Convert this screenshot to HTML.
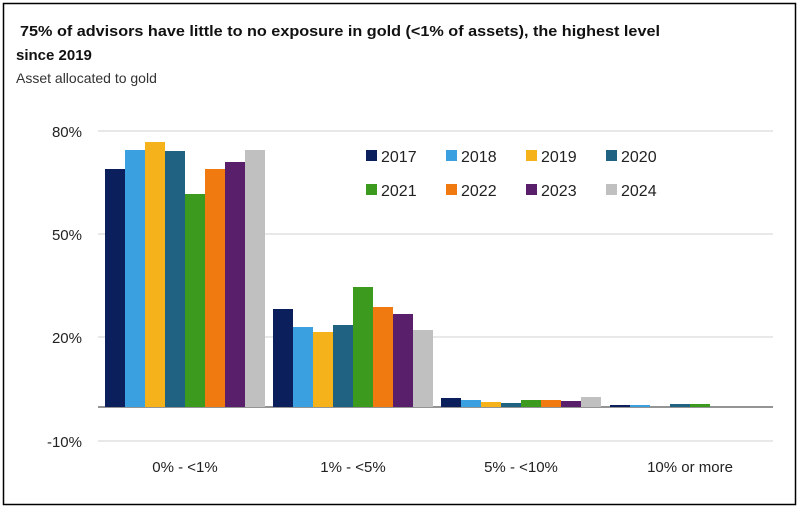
<!DOCTYPE html>
<html><head><style>body{margin:0;background:#fff}svg{display:block}text{font-family:"Liberation Sans",sans-serif}</style></head><body>
<svg width="800" height="509" viewBox="0 0 800 509">
<rect x="3.5" y="3.5" width="792" height="501" fill="#fff" stroke="#000" stroke-width="1.5"/>
<text x="20" y="36" font-size="15" font-weight="bold" fill="#111" textLength="640" lengthAdjust="spacingAndGlyphs">75% of advisors have little to no exposure in gold (&lt;1% of assets), the highest level</text>
<text x="16" y="60" font-size="15" font-weight="bold" fill="#111">since 2019</text>
<text x="16" y="83" font-size="14" fill="#333">Asset allocated to gold</text>
<g stroke="#d9d9d9" stroke-width="1.2">
<line x1="98" y1="131" x2="773" y2="131"/><line x1="98" y1="234" x2="773" y2="234"/><line x1="98" y1="337" x2="773" y2="337"/><line x1="98" y1="441" x2="773" y2="441"/>
</g>
<g font-size="15" fill="#222" text-anchor="end">
<text x="82" y="137">80%</text><text x="82" y="240">50%</text><text x="82" y="343">20%</text><text x="82" y="447">-10%</text>
</g>
<g id="bars"></g>
<line x1="98" y1="407" x2="773" y2="407" stroke="#555" stroke-width="1.2"/>
<g font-size="15" fill="#222" text-anchor="middle">
<text x="185" y="472">0% - &lt;1%</text><text x="353" y="472">1% - &lt;5%</text><text x="521" y="472">5% - &lt;10%</text><text x="690" y="472">10% or more</text>
</g>
<g font-size="16" fill="#222">
<rect x="366" y="150" width="11" height="11" fill="#0b1f5c"/><text x="381" y="162">2017</text>
<rect x="446" y="150" width="11" height="11" fill="#3aa0e0"/><text x="461" y="162">2018</text>
<rect x="526" y="150" width="11" height="11" fill="#f5b21b"/><text x="541" y="162">2019</text>
<rect x="606" y="150" width="11" height="11" fill="#1f6282"/><text x="621" y="162">2020</text>
<rect x="366" y="184" width="11" height="11" fill="#3c9b1f"/><text x="381" y="196">2021</text>
<rect x="446" y="184" width="11" height="11" fill="#f07a10"/><text x="461" y="196">2022</text>
<rect x="526" y="184" width="11" height="11" fill="#5a1f6b"/><text x="541" y="196">2023</text>
<rect x="606" y="184" width="11" height="11" fill="#c0c0c0"/><text x="621" y="196">2024</text>
</g>
<g>
<!-- group1 -->
<rect x="105" y="169" width="20" height="238" fill="#0b1f5c"/>
<rect x="125" y="150" width="20" height="257" fill="#3aa0e0"/>
<rect x="145" y="142" width="20" height="265" fill="#f5b21b"/>
<rect x="165" y="151" width="20" height="256" fill="#1f6282"/>
<rect x="185" y="194" width="20" height="213" fill="#3c9b1f"/>
<rect x="205" y="169" width="20" height="238" fill="#f07a10"/>
<rect x="225" y="162" width="20" height="245" fill="#5a1f6b"/>
<rect x="245" y="150" width="20" height="257" fill="#c0c0c0"/>
<!-- group2 -->
<rect x="273" y="309" width="20" height="98" fill="#0b1f5c"/>
<rect x="293" y="327" width="20" height="80" fill="#3aa0e0"/>
<rect x="313" y="332" width="20" height="75" fill="#f5b21b"/>
<rect x="333" y="325" width="20" height="82" fill="#1f6282"/>
<rect x="353" y="287" width="20" height="120" fill="#3c9b1f"/>
<rect x="373" y="307" width="20" height="100" fill="#f07a10"/>
<rect x="393" y="314" width="20" height="93" fill="#5a1f6b"/>
<rect x="413" y="330" width="20" height="77" fill="#c0c0c0"/>
<!-- group3 -->
<rect x="441" y="398" width="20" height="9" fill="#0b1f5c"/>
<rect x="461" y="400" width="20" height="7" fill="#3aa0e0"/>
<rect x="481" y="402" width="20" height="5" fill="#f5b21b"/>
<rect x="501" y="403" width="20" height="4" fill="#1f6282"/>
<rect x="521" y="400" width="20" height="7" fill="#3c9b1f"/>
<rect x="541" y="400" width="20" height="7" fill="#f07a10"/>
<rect x="561" y="401" width="20" height="6" fill="#5a1f6b"/>
<rect x="581" y="397" width="20" height="10" fill="#c0c0c0"/>
<!-- group4 -->
<rect x="610" y="405" width="20" height="2" fill="#0b1f5c"/>
<rect x="630" y="405" width="20" height="2" fill="#3aa0e0"/>
<rect x="670" y="404" width="20" height="3" fill="#1f6282"/>
<rect x="690" y="404" width="20" height="3" fill="#3c9b1f"/>
</g>
</svg>
</body></html>
